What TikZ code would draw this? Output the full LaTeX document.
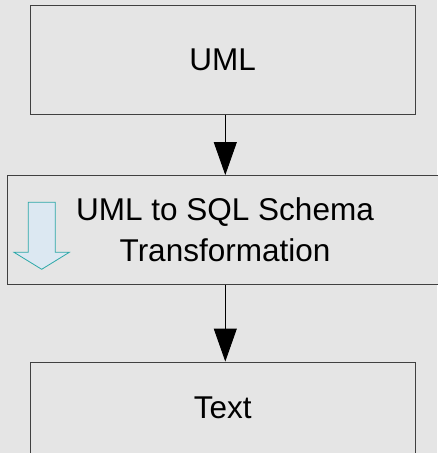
\documentclass[tikz,border=0pt]{standalone}
\usepackage{fontspec}
\setmainfont{Liberation Sans}
\usetikzlibrary{arrows.meta}
\definecolor{paper}{HTML}{E5E5E5}
\definecolor{frame}{HTML}{404040}
\definecolor{iconline}{HTML}{2CA8A8}
\definecolor{iconfill}{HTML}{DCE8F2}
\tikzset{
    stage/.style={draw=frame, fill=paper, line width=0.9pt, align=center,
        font=\fontsize{31.5}{41}\selectfont},
    flow/.style={draw=black, line width=0.9pt,
        -{Triangle[length=33pt, width=23pt]}}
}
\begin{document}
\begin{tikzpicture}[x=1pt, y=-1pt]
            \fill[paper] (0, 0) rectangle (437, 453);
            \useasboundingbox (0, 0) rectangle (437, 453);
            \node[stage, minimum width=385pt, minimum height=109pt] (uml) at (222.7, 59.7) {UML};
            \node[stage, minimum width=436pt, minimum height=109pt] (trafo) at (225, 230) {UML to SQL Schema\\Transformation};
            \node[stage, minimum width=385pt, minimum height=92pt] (text) at (222.7, 408) {Text};
            \draw[flow] (uml.south -| 225.3, 0) -- (trafo.north -| 225.3, 0);
            \draw[flow] (trafo.south -| 225.3, 0) -- (text.north -| 225.3, 0);
            % small transformation icon
            \draw[iconline, fill=iconfill, line width=0.8pt]
                (28.3, 202.3) -- (55.3, 202.3) -- (55.3, 252.3) -- (69.3, 252.3)
                -- (41.7, 269.3) -- (14, 252.3) -- (28.3, 252.3) -- cycle;
\end{tikzpicture}
\end{document}
